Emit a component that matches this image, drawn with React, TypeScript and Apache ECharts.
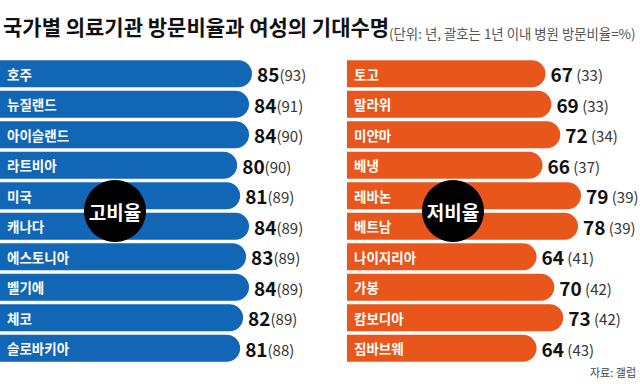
import React, { useEffect, useRef } from "react";
import * as echarts from "echarts";

const highCountries = ["호주", "뉴질랜드", "아이슬랜드", "라트비아", "미국", "캐나다", "에스토니아", "벨기에", "체코", "슬로바키아"];
const highLife = [85, 84, 84, 80, 81, 84, 83, 84, 82, 81];
const highVisit = [93, 91, 90, 90, 89, 89, 89, 89, 89, 88];

const lowCountries = ["토고", "말라위", "미얀마", "베냉", "레바논", "베트남", "나이지리아", "가봉", "캄보디아", "짐바브웨"];
const lowLife = [67, 69, 72, 66, 79, 78, 64, 70, 73, 64];
const lowVisit = [33, 33, 34, 37, 39, 39, 41, 42, 42, 43];

const FONT = "'Noto Sans CJK KR', 'Noto Sans', sans-serif";
const BLUE = "#1166b5";
const ORANGE = "#e8561c";

export default function App() {
  const ref = useRef<HTMLDivElement>(null);
  useEffect(() => {
    if (!ref.current) return;
    const chart = echarts.init(ref.current, null, { renderer: "svg" });
    const gridTop = 58.5;
    const gridH = 305;
    const valueLabel = (visit: number[], sep: string) => ({
      show: true,
      position: "right",
      distance: 5,
      formatter: (p: any) => `{a|${p.value}}{b|${sep}(${visit[p.dataIndex]})}`,
      rich: {
        a: { fontFamily: FONT, fontSize: 19, fontWeight: "bold", color: "#111" },
        b: { fontFamily: FONT, fontSize: 15, color: "#333", padding: [2, 0, 0, 0] },
      },
    });
    const catLabel = {
      inside: true,
      margin: 7,
      color: "#fff",
      fontFamily: FONT,
      fontSize: 13.5,
      fontWeight: "bold",
    };
    chart.setOption({
      animation: false,
      backgroundColor: "#fff",
      grid: [
        { left: 0, top: gridTop, width: 252, height: gridH },
        { left: 347, top: gridTop, width: 234, height: gridH },
      ],
      xAxis: [
        { gridIndex: 0, type: "value", min: 0, max: 85, show: false },
        { gridIndex: 1, type: "value", min: 0, max: 79, show: false },
      ],
      yAxis: [
        {
          gridIndex: 0, type: "category", inverse: true, data: highCountries, z: 10,
          axisLine: { show: false }, axisTick: { show: false }, axisLabel: catLabel,
        },
        {
          gridIndex: 1, type: "category", inverse: true, data: lowCountries, z: 10,
          axisLine: { show: false }, axisTick: { show: false }, axisLabel: catLabel,
        },
      ],
      series: [
        {
          type: "bar", xAxisIndex: 0, yAxisIndex: 0, data: highLife, barWidth: 27,
          itemStyle: { color: BLUE, borderRadius: [0, 13.5, 13.5, 0] },
          label: valueLabel(highVisit, ""),
        },
        {
          type: "bar", xAxisIndex: 1, yAxisIndex: 1, data: lowLife, barWidth: 27,
          itemStyle: { color: ORANGE, borderRadius: [0, 13.5, 13.5, 0] },
          label: valueLabel(lowVisit, " "),
        },
      ],
      graphic: [
        {
          type: "text", left: 3, top: 15, z: 20,
          style: { text: "국가별 의료기관 방문비율과 여성의 기대수명", font: `bold 21px ${FONT}`, fill: "#111" },
        },
        {
          type: "text", left: 389, top: 26, z: 20,
          style: { text: "(단위: 년, 괄호는 1년 이내 병원 방문비율=%)", font: `13.4px ${FONT}`, fill: "#555" },
        },
        {
          type: "text", right: 4, top: 366, z: 20,
          style: { text: "자료: 갤럽", font: `11px ${FONT}`, fill: "#444" },
        },
        { type: "circle", shape: { cx: 115, cy: 211, r: 31 }, style: { fill: "#000" }, z: 30 },
        {
          type: "text", x: 115, y: 211, z: 31,
          style: { text: "고비율", font: `bold 19px ${FONT}`, fill: "#fff", align: "center", verticalAlign: "middle", textAlign: "center", textVerticalAlign: "middle" },
        },
        { type: "circle", shape: { cx: 453, cy: 211, r: 31 }, style: { fill: "#000" }, z: 30 },
        {
          type: "text", x: 453, y: 211, z: 31,
          style: { text: "저비율", font: `bold 19px ${FONT}`, fill: "#fff", align: "center", verticalAlign: "middle", textAlign: "center", textVerticalAlign: "middle" },
        },
      ],
    });
    return () => chart.dispose();
  }, []);
  return <div ref={ref} style={{ position: "absolute", left: 0, top: 0, width: 640, height: 384 }} />;
}
